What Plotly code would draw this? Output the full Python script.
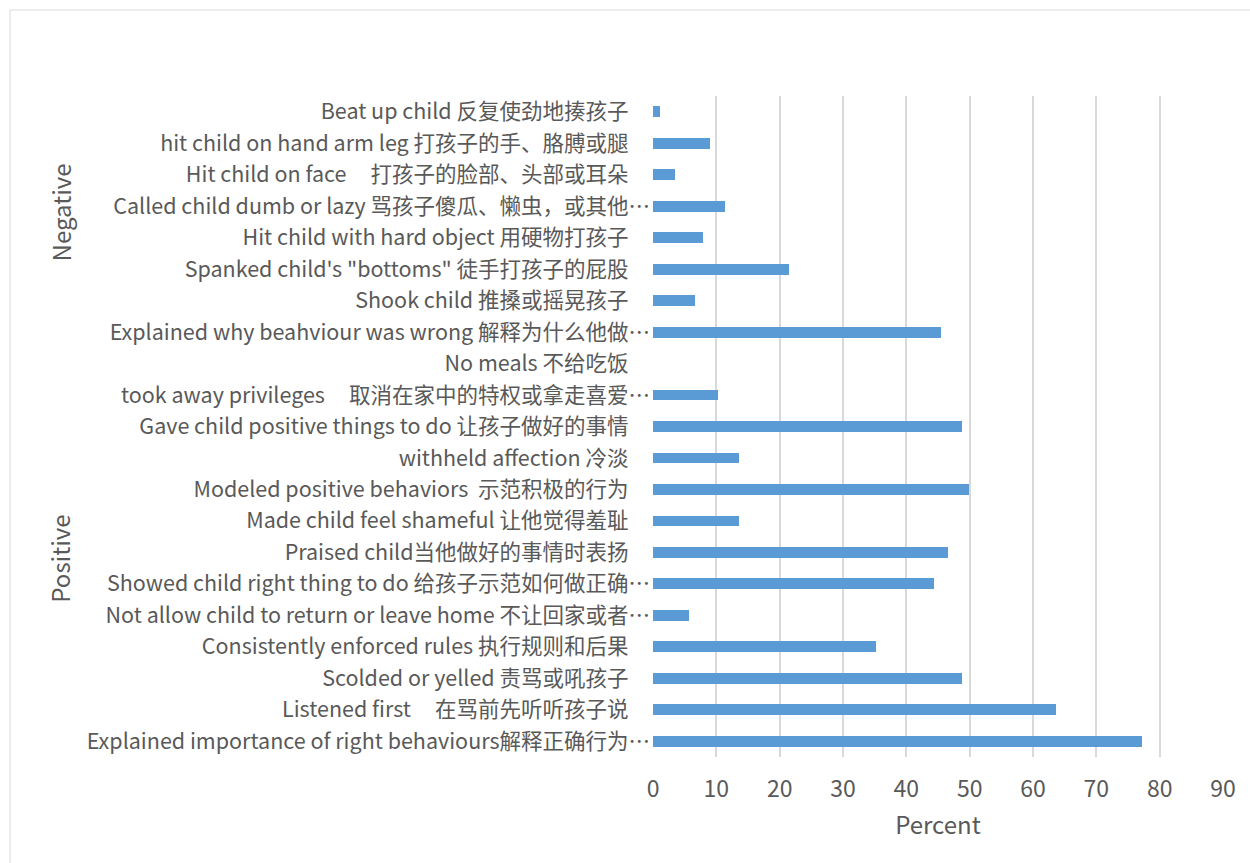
import plotly.graph_objects as go

# Parenting practices, listed top to bottom as they appear on the axis
categories = [
    "Beat up child 反复使劲地揍孩子",
    "hit child on hand arm leg 打孩子的手、胳膊或腿",
    "Hit child on face\u00a0\u00a0\u00a0\u00a0 打孩子的脸部、头部或耳朵",
    "Called child dumb or lazy 骂孩子傻瓜、懒虫，或其他…",
    "Hit child with hard object 用硬物打孩子",
    "Spanked child's \"bottoms\" 徒手打孩子的屁股",
    "Shook child 推搡或摇晃孩子",
    "Explained why beahviour was wrong 解释为什么他做…",
    "No meals 不给吃饭",
    "took away privileges\u00a0\u00a0\u00a0\u00a0 取消在家中的特权或拿走喜爱…",
    "Gave child positive things to do 让孩子做好的事情",
    "withheld affection 冷淡",
    "Modeled positive behaviors\u00a0 示范积极的行为",
    "Made child feel shameful 让他觉得羞耻",
    "Praised child当他做好的事情时表扬",
    "Showed child right thing to do 给孩子示范如何做正确…",
    "Not allow child to return or leave home 不让回家或者…",
    "Consistently enforced rules 执行规则和后果",
    "Scolded or yelled 责骂或吼孩子",
    "Listened first\u00a0\u00a0\u00a0\u00a0 在骂前先听听孩子说",
    "Explained importance of right behaviours解释正确行为…",
]
percent = [1.1, 9.0, 3.4, 11.3, 7.9, 21.5, 6.7, 45.4, 0.0, 10.2, 48.8,
           13.6, 49.9, 13.6, 46.6, 44.3, 5.7, 35.2, 48.8, 63.6, 77.2]

group_names = ["Negative", "Positive"]
group_centers = [3.2, 14.2]  # position along the category axis

x_ticks = [0, 10, 20, 30, 40, 50, 60, 70, 80, 90]

# Labels cut with an ellipsis run slightly further right; pad the rest
axis_labels = [c if c.endswith("…") else c + "\u3000" for c in categories]

FONT = "Noto Sans CJK SC, Noto Sans, sans-serif"
TEXT = "#595959"
GRID = "#D9D9D9"

W, H = 1250, 863
L, R, T, B = 653, 27, 96, 106
pw, ph = W - L - R, H - T - B

fig = go.Figure(
    go.Bar(
        x=percent,
        y=axis_labels,
        orientation="h",
        width=0.345,
        marker=dict(color="#5B9BD5", line=dict(width=0)),
        hoverinfo="x+y",
    )
)

for name, pos in zip(group_names, group_centers):
    fig.add_annotation(
        text=name, x=(60 - L) / pw, xref="paper", y=pos, yref="y",
        showarrow=False, textangle=-90, xanchor="center", yanchor="middle",
        font=dict(family=FONT, size=24, color=TEXT),
    )

# Chart-area frame
fig.add_shape(
    type="rect", xref="paper", yref="paper",
    x0=(10 - L) / pw, x1=(W + 12 - L) / pw,
    y0=(H - B - (H + 12)) / ph, y1=(H - B - 10) / ph,
    line=dict(color=GRID, width=1), fillcolor="rgba(0,0,0,0)", layer="below",
)

fig.update_layout(
    width=W, height=H,
    margin=dict(l=L, r=R, t=T, b=B, autoexpand=False),
    paper_bgcolor="white", plot_bgcolor="white",
    showlegend=False, bargap=0,
    font=dict(family=FONT, color=TEXT, size=21.5),
    xaxis=dict(
        range=[0, 90], tickvals=x_ticks, showgrid=True, gridcolor=GRID,
        gridwidth=2, zeroline=False, showline=False, ticks="",
        tickfont=dict(size=23, color=TEXT), ticklabelstandoff=16,
        title=dict(text="Percent", font=dict(size=24, color=TEXT), standoff=14),
        fixedrange=True,
    ),
    yaxis=dict(
        type="category", autorange="reversed", showgrid=False,
        zeroline=False, showline=False, ticks="",
        tickfont=dict(size=21.5, color=TEXT), ticklabelstandoff=2,
        fixedrange=True,
    ),
)

fig.write_html("out.html")
